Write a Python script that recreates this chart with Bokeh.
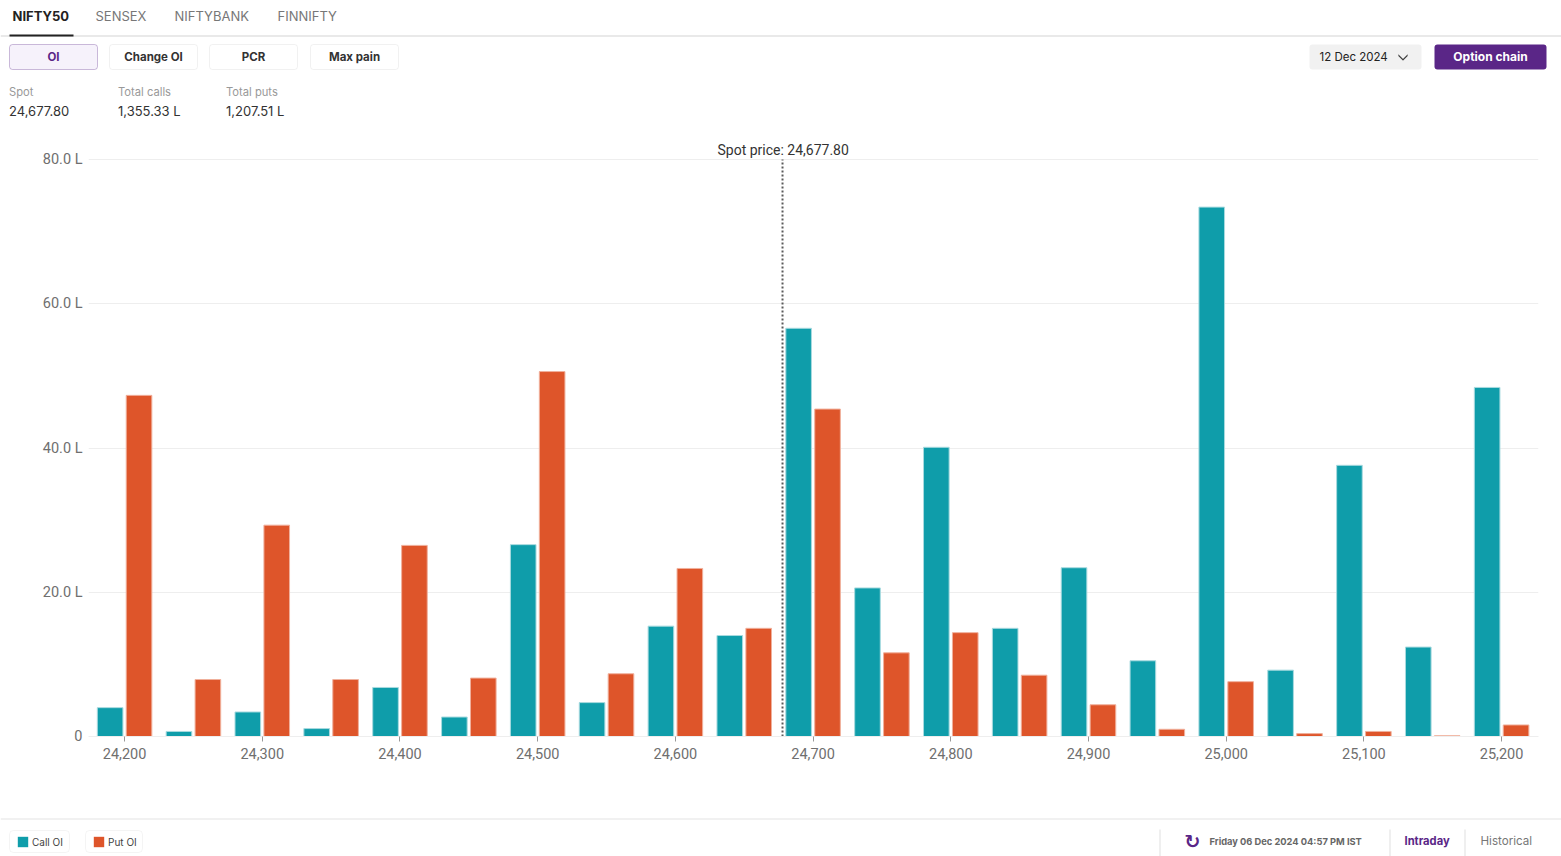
from bokeh.plotting import figure
from bokeh.models import (ColumnDataSource, Range1d, Label, BoxAnnotation, FixedTicker,
                          Legend, LegendItem, PolyAnnotation, Title)
from bokeh.embed import file_html
from bokeh.resources import INLINE

strikes = [24200, 24250, 24300, 24350, 24400, 24450, 24500, 24550, 24600, 24650, 24700,
           24750, 24800, 24850, 24900, 24950, 25000, 25050, 25100, 25150, 25200]
call_oi = [4.0, 0.7, 3.4, 1.1, 6.8, 2.7, 26.6, 4.7, 15.3, 14.0, 56.6,
           20.6, 40.1, 15.0, 23.4, 10.5, 73.4, 9.2, 37.6, 12.4, 48.4]
put_oi = [47.3, 7.9, 29.3, 7.9, 26.5, 8.1, 50.6, 8.7, 23.3, 15.0, 45.4,
          11.6, 14.4, 8.5, 4.4, 1.0, 7.6, 0.4, 0.7, 0.1, 1.6]
spot = 24677.80
x_ticks = list(range(24200, 25201, 100))
y_ticks = [0, 20, 40, 60, 80]
y_labels = {0: "0", 20: "20.0 L", 40: "40.0 L", 60: "60.0 L", 80: "80.0 L"}
tabs = ["NIFTY50", "SENSEX", "NIFTYBANK", "FINNIFTY"]
buttons = ["OI", "Change OI", "PCR", "Max pain"]
stats = [("Spot", "24,677.80"), ("Total calls", "1,355.33 L"), ("Total puts", "1,207.51 L")]

TEAL, ORANGE, PURPLE = "#0f9daa", "#de552a", "#5a2687"
FONT = "Inter"
W = 1561
HEAD_H, CHART_H = 133, 662
FOOT_TOP = HEAD_H + CHART_H
FOOT_H = 856 - FOOT_TOP


def panel(h):
    f = figure(width=W, height=h, output_backend="svg", toolbar_location=None,
               x_range=Range1d(0, W), y_range=Range1d(0, h), x_axis_type=None, y_axis_type=None,
               min_border=0)
    f.outline_line_color = None
    f.grid.visible = False
    return f


def text(f, px, py, s, size=13, color="#333333", style="normal", align="left", font=FONT, top=0):
    f.add_layout(Label(x=px, y=py - top - 1, x_units="canvas", y_units="canvas", text=s,
                       text_font=font, text_font_size=f"{size}px", text_color=color,
                       text_font_style=style, text_align=align, text_baseline="middle"))


def box(f, l, t, r, b, fill=None, line=None, radius=0, lw=1, top=0):
    f.add_layout(BoxAnnotation(left=l, right=r, top=t - top, bottom=b - top,
                               left_units="canvas", right_units="canvas",
                               top_units="canvas", bottom_units="canvas",
                               fill_color=fill, fill_alpha=1 if fill else 0,
                               line_color=line, line_width=lw, border_radius=radius,
                               editable=False))


# ---- header
head = panel(HEAD_H)
box(head, 0, 35, W, 36, fill="#d4d4d4")
box(head, 9, 34, 73, 36, fill="#222222")
for s, x, c in zip(tabs, [12, 95, 174, 277], ["#222222", "#777777", "#777777", "#777777"]):
    text(head, x, 16, s, size=13, color=c, style="bold" if s == "NIFTY50" else "normal")
for i, (s, l) in enumerate(zip(buttons, [9, 109, 209, 310])):
    active = i == 0
    box(head, l, 44, l + 88, 69, fill="#f6f2fb" if active else "#ffffff",
        line=PURPLE if active else "#cfcfcf", radius=3)
    text(head, l + 44, 57, s, size=11.5, color=PURPLE if active else "#333333", style="bold", align="center")
box(head, 1309, 44, 1421, 69, fill="#f1f1f1", radius=3)
text(head, 1319, 57, "12 Dec 2024", size=11.5, color="#222222")
head.add_layout(PolyAnnotation(xs=[1398, 1402.5, 1407, 1407, 1402.5, 1398],
                               ys=[54, 58.5, 54, 55.5, 60, 55.5],
                               xs_units="canvas", ys_units="canvas", fill_color="#333333", fill_alpha=1,
                               line_color="#333333", line_width=0.5, editable=False))
box(head, 1434, 44, 1546, 69, fill=PURPLE, radius=3)
text(head, 1490, 57, "Option chain", size=12, color="#ffffff", style="bold", align="center")
for (a, b), x in zip(stats, [8.5, 117.5, 225.5]):
    text(head, x, 92, a, size=11.2, color="#999999")
    text(head, x, 111, b, size=13, color="#333333")

# ---- chart
p = figure(width=W, height=CHART_H, output_backend="svg", toolbar_location=None,
           x_range=Range1d(24173.8, 25226.8), y_range=Range1d(0, 80.28),
           min_border_left=88, min_border_right=23, min_border_top=24, min_border_bottom=59)
p.title = Title(text="Spot price: 24,677.80", align="left", offset=629, text_font="Roboto",
                text_font_size="14px", text_font_style="normal", text_color="#333333", standoff=0)
p.outline_line_color = None
p.xgrid.visible = False
p.ygrid.grid_line_color = "#eeeeee"
p.ygrid.ticker = FixedTicker(ticks=y_ticks)

src = ColumnDataSource(dict(x=strikes, call=call_oi, put=put_oi,
                            xc=[s - 10.5 for s in strikes], xp=[s + 10.5 for s in strikes]))
p.vbar(x="xc", top="call", bottom=0, width=18.6, source=src, fill_color=TEAL,
       line_color="#a8dadf", line_width=1)
p.vbar(x="xp", top="put", bottom=0, width=18.6, source=src, fill_color=ORANGE,
       line_color="#f0b09c", line_width=1)
p.segment(x0=[spot], y0=[0], x1=[spot], y1=[80], line_color="#5a5a5a", line_width=2, line_dash="2 2")

p.yaxis.ticker = FixedTicker(ticks=y_ticks)
p.yaxis.major_label_overrides = y_labels
p.yaxis.axis_line_color = None
p.yaxis.major_tick_line_color = None
p.yaxis.major_tick_out = 0
p.yaxis.major_tick_in = 0
p.yaxis.minor_tick_line_color = None
p.yaxis.major_label_standoff = 6
p.xaxis.ticker = FixedTicker(ticks=x_ticks)
p.xaxis.major_label_overrides = {t: f"{t:,}" for t in x_ticks}
p.xaxis.axis_line_color = "#eeeeee"
p.xaxis.major_tick_line_color = "#999999"
p.xaxis.major_tick_in = 0
p.xaxis.major_tick_out = 5
p.xaxis.minor_tick_line_color = None
p.xaxis.major_label_standoff = 6
for ax in (p.xaxis, p.yaxis):
    ax.major_label_text_font = "Roboto"
    ax.major_label_text_font_size = "14.5px"
    ax.major_label_text_color = "#6f6f6f"

# ---- footer
foot = panel(FOOT_H)
T = FOOT_TOP
box(foot, 0, 818, W, 819, fill="#e4e4e4", top=T)
for x in (1159, 1389, 1464):
    box(foot, x, 829, x + 1, 856, fill="#e0e0e0", top=T)
text(foot, 1192, 841, "↻", size=19, color=PURPLE, style="bold", align="center", font="DejaVu Sans", top=T)
text(foot, 1209, 842, "Friday 06 Dec 2024 04:57 PM IST", size=9.3, color="#666666", style="bold", top=T)
text(foot, 1404, 841.5, "Intraday", size=11.2, color=PURPLE, style="bold", top=T)
text(foot, 1480, 841.5, "Historical", size=11.6, color="#777777", top=T)

box(foot, 9, 830, 69, 852, fill="#ffffff", line="#dcdcdc", radius=4, top=T)
box(foot, 85, 830, 142, 852, fill="#ffffff", line="#dcdcdc", radius=4, top=T)
for label, color, vals, lx in (("Call OI", TEAL, call_oi, 16), ("Put OI", ORANGE, put_oi, 92)):
    r = foot.vbar(x=strikes, top=vals, width=1, fill_color=color, line_color=None)
    foot.add_layout(Legend(items=[LegendItem(label=label, renderers=[r])], location=(lx, 856 - 848),
                           orientation="horizontal", label_text_font=FONT, label_text_font_size="10px",
                           label_text_color="#444444", glyph_width=13, glyph_height=13, label_standoff=3,
                           padding=0, margin=0, border_line_color=None, background_fill_alpha=0,
                           spacing=0, label_height=13))

open("out.html", "w").write(file_html([head, p, foot], INLINE))
